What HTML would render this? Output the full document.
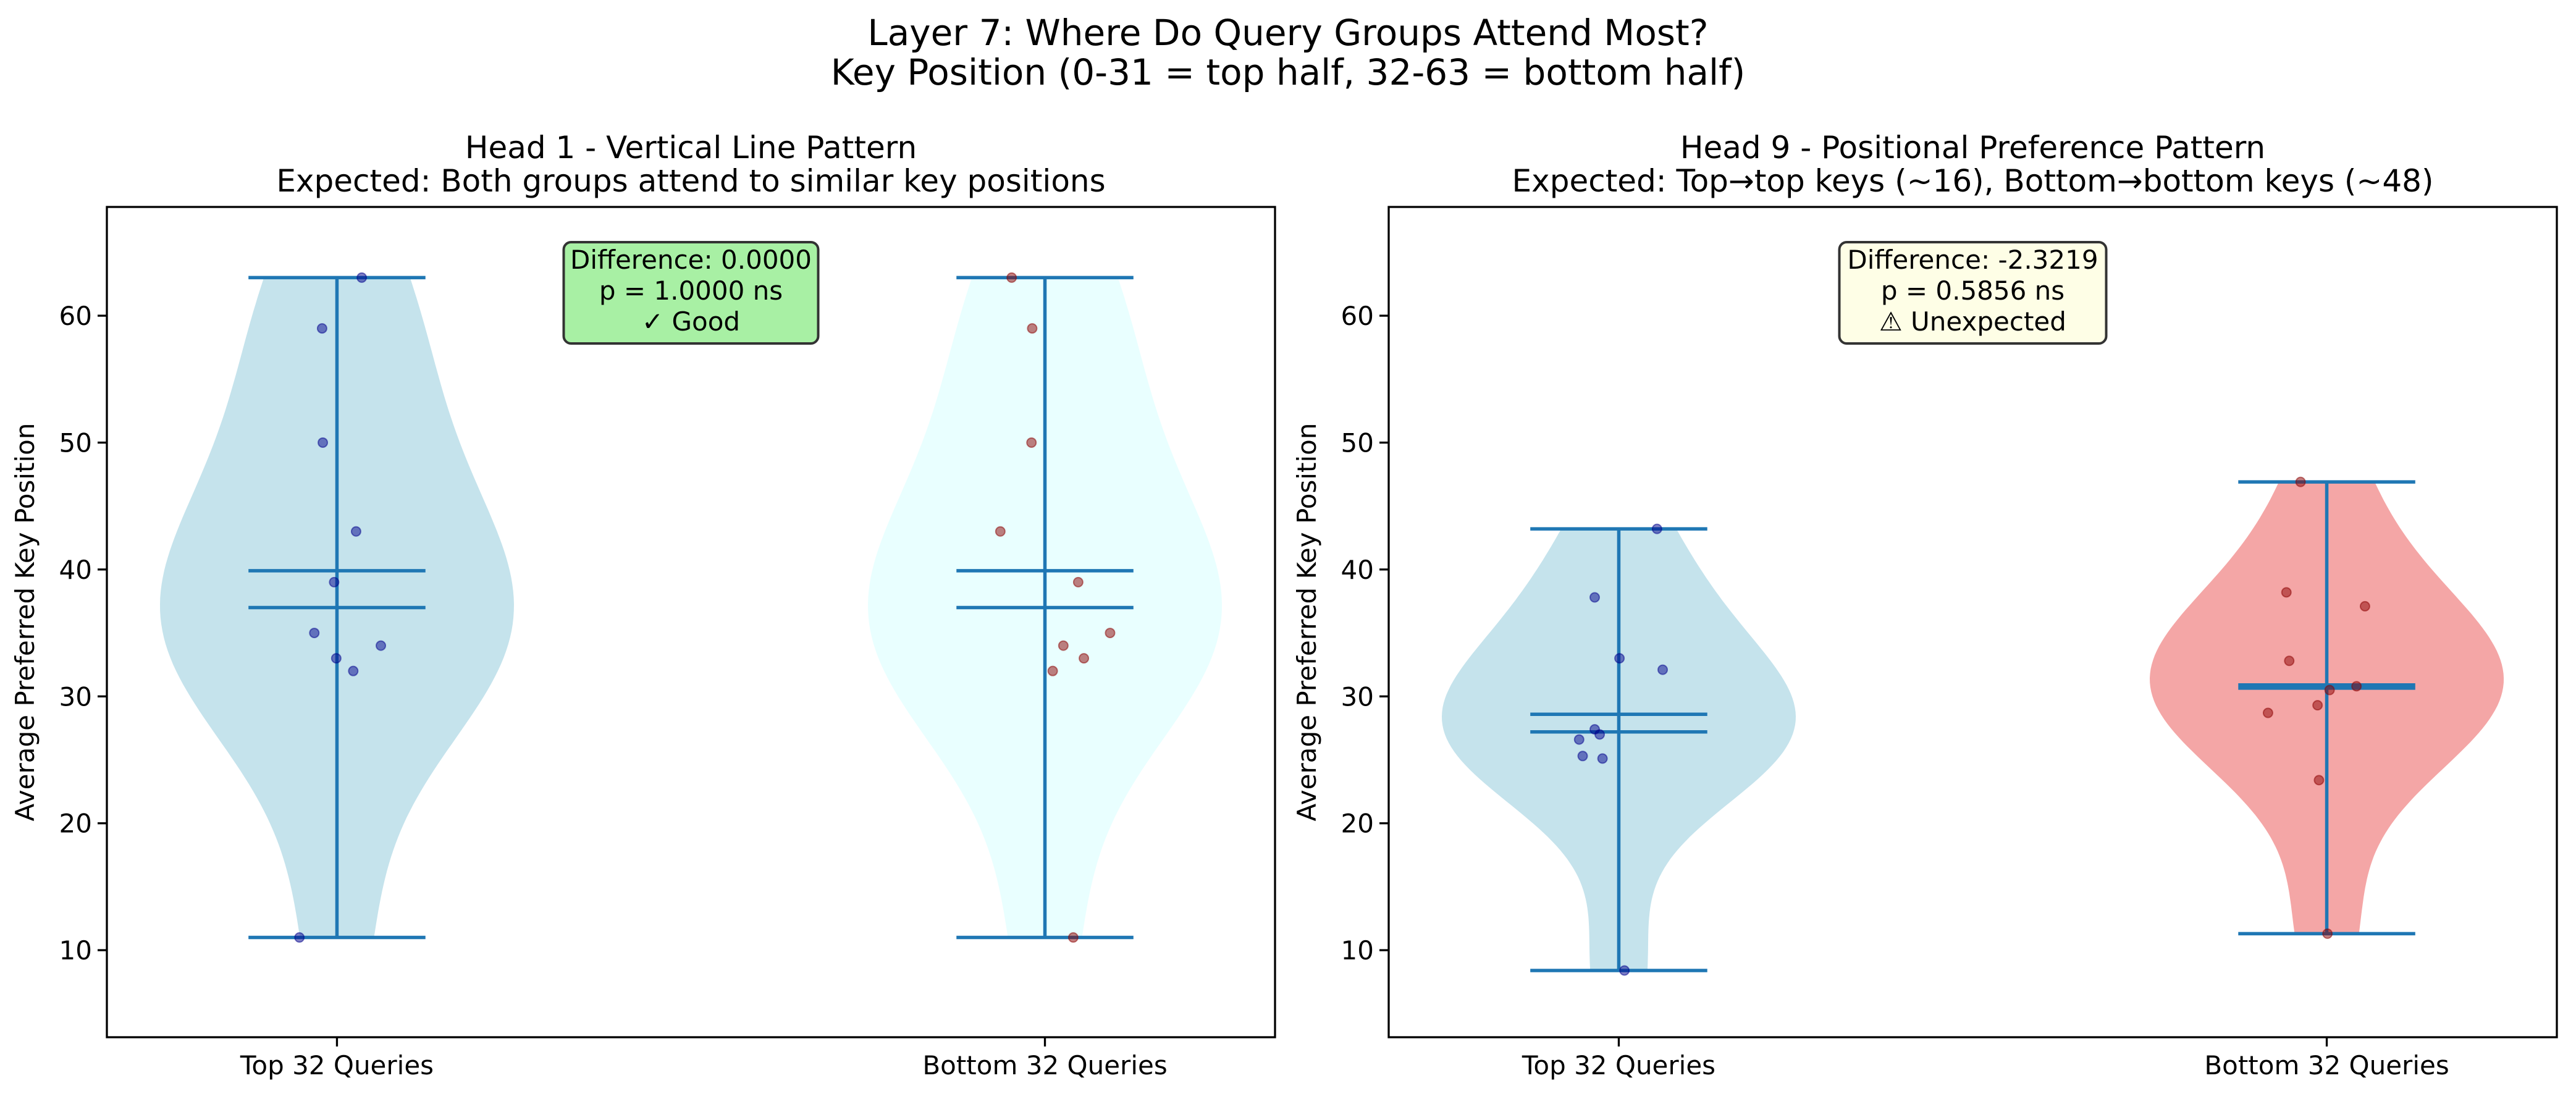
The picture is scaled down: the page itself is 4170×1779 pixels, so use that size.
<!DOCTYPE html>
<html><head><meta charset="utf-8"><style>
html,body{margin:0;padding:0;background:#fff}
svg{display:block}
text{font-family:"DejaVu Sans","Liberation Sans",sans-serif;fill:#000}
</style></head><body>
<svg id="fig" xmlns="http://www.w3.org/2000/svg" width="4170" height="1779" viewBox="0 0 4170 1779">
<rect width="4170" height="1779" fill="#fff"/>
<text x="2085" y="73" font-size="58" text-anchor="middle">Layer 7: Where Do Query Groups Attend Most?</text>
<text x="2085" y="137" font-size="58" text-anchor="middle">Key Position (0-31 = top half, 32-63 = bottom half)</text>
<g id="panels"></g>
</svg>
<script>
const categories = ["Top 32 Queries", "Bottom 32 Queries"];
const yTicks = [10, 20, 30, 40, 50, 60];
const h1Top = [63, 59, 50, 43, 39, 35, 33, 32, 34, 11];
const h1Bottom = [63, 59, 50, 43, 39, 35, 34, 33, 32, 11];
const h9Top = [43.2, 37.8, 33, 32.1, 27.4, 27, 26.6, 25.3, 25.1, 8.4];
const h9Bottom = [46.9, 38.2, 37.1, 32.8, 30.5, 30.8, 29.3, 28.7, 23.4, 11.3];
const h1TopJitter = [0.035, -0.021, -0.020, 0.027, -0.004, -0.032, -0.001, 0.023, 0.062, -0.053];
const h1BottomJitter = [-0.047, -0.018, -0.019, -0.063, 0.047, 0.092, 0.026, 0.055, 0.011, 0.040];
const h9TopJitter = [0.054, -0.034, 0.001, 0.062, -0.034, -0.027, -0.056, -0.051, -0.023, 0.008];
const h9BottomJitter = [-0.037, -0.057, 0.054, -0.053, 0.004, 0.042, -0.013, -0.083, -0.011, 0.001];
const panelTitles = [["Head 1 - Vertical Line Pattern","Expected: Both groups attend to similar key positions"],
                     ["Head 9 - Positional Preference Pattern","Expected: Top\u2192top keys (~16), Bottom\u2192bottom keys (~48)"]];
const boxTexts = [["Difference: 0.0000","p = 1.0000 ns","\u2713 Good"],["Difference: -2.3219","p = 0.5856 ns","\u26A0 Unexpected"]];

const NS="http://www.w3.org/2000/svg";
const AX_T=335, AX_B=1679, AX_W=1891;
const XMIN=0.675, XSPAN=1.650;
const YMIN=3.14, YMAX=68.57;
function ys(v){return AX_B-(v-YMIN)/(YMAX-YMIN)*(AX_B-AX_T);}
function mk(tag,attrs,parent){const e=document.createElementNS(NS,tag);for(const k in attrs)e.setAttribute(k,attrs[k]);parent.appendChild(e);return e;}
function kde(d){const n=d.length;const m=d.reduce((a,b)=>a+b)/n;
 const sd=Math.sqrt(d.reduce((a,b)=>a+(b-m)*(b-m),0)/(n-1));const bw=sd*Math.pow(n,-0.2);
 const lo=Math.min(...d),hi=Math.max(...d);const pts=[];
 for(let i=0;i<100;i++){const y=lo+(hi-lo)*i/99;let s=0;for(const v of d){const z=(y-v)/bw;s+=Math.exp(-z*z/2);}pts.push([y,s]);}
 const mx=Math.max(...pts.map(p=>p[1]));return pts.map(p=>[p[0],p[1]/mx*0.25]);}
function median(d){const s=[...d].sort((a,b)=>a-b);const n=s.length;return n%2?s[(n-1)/2]:(s[n/2-1]+s[n/2])/2;}

const panels=[
 {x0:173,data:[h1Top,h1Bottom],jit:[h1TopJitter,h1BottomJitter],fills:["#c5e3ec","#e9ffff"]},
 {x0:2248,data:[h9Top,h9Bottom],jit:[h9TopJitter,h9BottomJitter],fills:["#c5e3ec","#f4a6a6"]}];
const root=document.getElementById('panels');
panels.forEach((p,pi)=>{
 const xs=v=>p.x0+(v-XMIN)/XSPAN*AX_W;
 const g=mk('g',{},root);
 
 
 const cx=p.x0+AX_W/2;
 const t1=mk('text',{x:cx,y:256,'font-size':50,'text-anchor':'middle'},g);t1.textContent=panelTitles[pi][0];
 
 
 const t2=mk('text',{x:cx,y:310,'font-size':50,'text-anchor':'middle'},g);t2.textContent=panelTitles[pi][1];
 
 
 p.data.forEach((d,ci)=>{
  const pos=ci+1;const k=kde(d);
  let path='M'+k.map(q=>(xs(pos-q[1])).toFixed(1)+','+ys(q[0]).toFixed(1)).join(' L');
  path+=' L'+k.slice().reverse().map(q=>(xs(pos+q[1])).toFixed(1)+','+ys(q[0]).toFixed(1)).join(' L')+'Z';
  const vb=mk('path',{d:path,fill:p.fills[ci]},g);
  
  
  const lo=Math.min(...d),hi=Math.max(...d),mean=d.reduce((a,b)=>a+b)/d.length,med=median(d);
  const c='#1f77b4';
  const vl=mk('line',{x1:xs(pos),x2:xs(pos),y1:ys(lo),y2:ys(hi),stroke:c,'stroke-width':5.5},g);
  
  
  [lo,hi,mean,med].forEach(v=>{
   const l=mk('line',{x1:xs(pos-0.125),x2:xs(pos+0.125),y1:ys(v),y2:ys(v),stroke:c,'stroke-width':5.5},g);
   
   
  });
  const col=(ci===0?'#00008b':'#8b0000');
  d.forEach((v,i)=>{
   const pt=mk('circle',{cx:xs(pos+p.jit[ci][i]),cy:ys(v),r:7.5,fill:col,'fill-opacity':0.5,stroke:col,'stroke-opacity':0.5,'stroke-width':2},g);
   
   
  });
  const tk=mk('line',{x1:xs(pos),x2:xs(pos),y1:AX_B,y2:AX_B+15,stroke:'#000','stroke-width':3.3},g);
  
  
  const tl=mk('text',{x:xs(pos),y:AX_B+60,'font-size':42,'text-anchor':'middle'},g);tl.textContent=categories[ci];
  
  
 });
 yTicks.forEach(v=>{
  const tk=mk('line',{x1:p.x0-15,x2:p.x0,y1:ys(v),y2:ys(v),stroke:'#000','stroke-width':3.3},g);
  
  
  const tl=mk('text',{x:p.x0-24,y:ys(v)+15,'font-size':42,'text-anchor':'end'},g);tl.textContent=v;
  
  
 });
 const yl=mk('text',{x:0,y:0,'font-size':42,'text-anchor':'middle',transform:`translate(${p.x0-118},${(AX_T+AX_B)/2}) rotate(-90)`},g);
 yl.textContent='Average Preferred Key Position';
 
 
 const fr=mk('rect',{x:p.x0,y:AX_T,width:AX_W,height:AX_B-AX_T,fill:'none',stroke:'#000','stroke-width':3.3},g);
 
 
 const bw=pi===0?412:432;
 const bx=mk('rect',{x:cx-bw/2,y:392,width:bw,height:164,rx:12,fill:pi===0?'#a8f0a4':'#fefee6',stroke:'#333','stroke-width':4},g);
 
 
 boxTexts[pi].forEach((s,i)=>{
  const t=mk('text',{x:cx,y:435+i*50,'font-size':42,'text-anchor':'middle'},g);t.textContent=s;
  
  
 });
});
</script>
</body></html>
